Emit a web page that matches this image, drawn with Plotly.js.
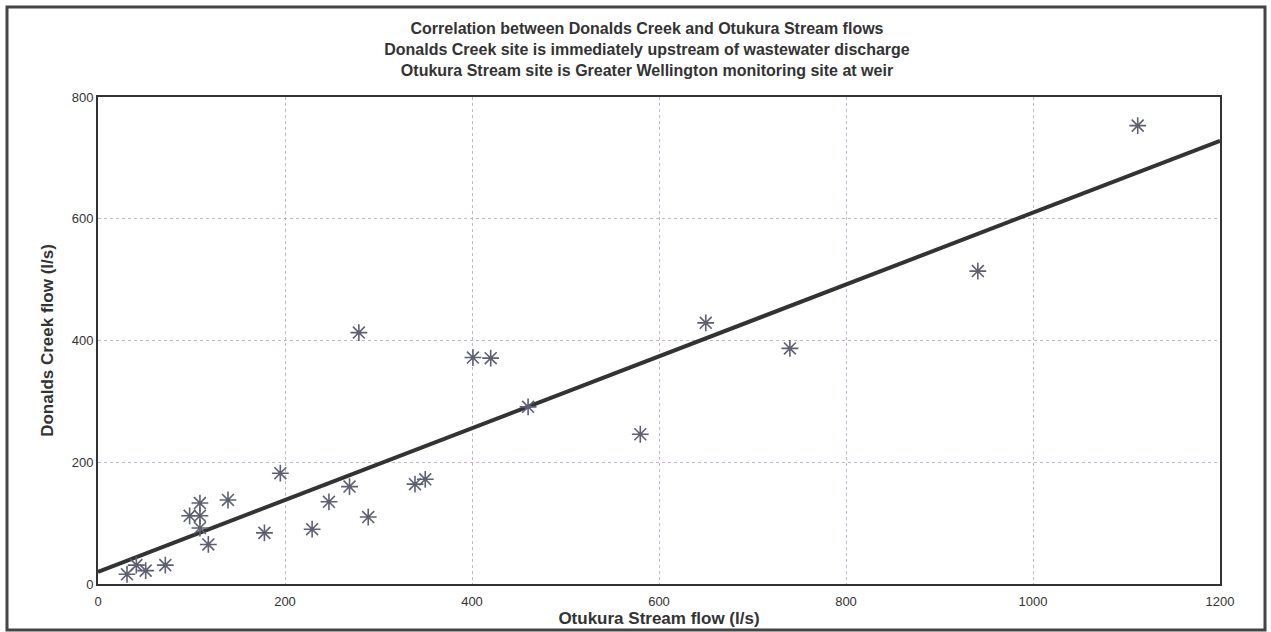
<!DOCTYPE html>
<html>
<head>
<meta charset="utf-8">
<script src="https://cdn.plot.ly/plotly-3.0.1.min.js"></script>
<style>
  html, body { margin: 0; padding: 0; background: #fff; }
  #chart { width: 1271px; height: 632px; }
</style>
</head>
<body>
<div id="chart"></div>
<script>
// Observations: Otukura Stream flow (x) vs Donalds Creek flow (y), l/s
const otukuraFlow = [31, 41, 51, 72, 98, 109, 109, 109, 118, 139, 178, 195, 229, 247, 269, 289, 339, 350, 279, 401, 420, 460, 580, 650, 740, 941, 1112];
const donaldsFlow = [16, 31, 22, 31, 112, 133, 112, 92, 65, 138, 84, 182, 90, 135, 160, 110, 164, 172, 413, 372, 371, 291, 246, 429, 387, 514, 753];

// Fitted trend line end points
const trendX = [0, 1200];
const trendY = [20, 728];

const xTicks = [0, 200, 400, 600, 800, 1000, 1200];
const yTicks = [0, 200, 400, 600, 800];

const titleLines = [
  'Correlation between Donalds Creek and Otukura Stream flows',
  'Donalds Creek site is immediately upstream of wastewater discharge',
  'Otukura Stream site is Greater Wellington monitoring site at weir'
];
const xTitle = 'Otukura Stream flow (l/s)';
const yTitle = 'Donalds Creek flow (l/s)';

const W = 1271, H = 632;
const mar = { l: 98, r: 51, t: 97, b: 48 };
const pw = W - mar.l - mar.r, ph = H - mar.t - mar.b;
const px = v => (v - mar.l) / pw;
const py = v => (H - mar.b - v) / ph;
const FONT = 'Liberation Sans, Arial, sans-serif';

const traces = [
  {
    x: trendX, y: trendY, type: 'scatter', mode: 'lines',
    line: { color: '#333333', width: 4 }, hoverinfo: 'skip', showlegend: false
  },
  {
    x: otukuraFlow, y: donaldsFlow, type: 'scatter', mode: 'markers',
    marker: { symbol: 'asterisk-open', size: 14, color: '#5e6070', line: { color: '#5e6070', width: 1.6 } },
    showlegend: false
  }
];

const axisCommon = {
  showline: true, linecolor: '#333', linewidth: 2, mirror: true,
  showgrid: true, gridcolor: '#c8b4cc', gridwidth: 1, griddash: 'dot',
  zeroline: false, ticks: '',
  tickfont: { family: FONT, size: 13, color: '#333' }
};

const layout = {
  width: W, height: H,
  margin: mar,
  paper_bgcolor: '#fff', plot_bgcolor: '#fff',
  font: { family: FONT, color: '#333' },
  title: {
    text: '<b>' + titleLines.join('<br>') + '</b>',
    xref: 'container', yref: 'container',
    x: 647 / W, xanchor: 'center', y: 1 - 34 / H, yanchor: 'middle',
    font: { size: 16, color: '#333', family: FONT }
  },
  xaxis: Object.assign({}, axisCommon, {
    range: [0, 1200], tickvals: xTicks, ticktext: xTicks.map(String),
    ticklabelstandoff: 4,
    title: { text: '<b>' + xTitle + '</b>', font: { size: 17, color: '#333', family: FONT }, standoff: 4 }
  }),
  yaxis: Object.assign({}, axisCommon, {
    range: [0, 800], tickvals: yTicks, ticktext: yTicks.map(String),
    title: { text: '<b>' + yTitle + '</b>', font: { size: 17, color: '#333', family: FONT }, standoff: 14 }
  }),
  shapes: [{
    type: 'rect', xref: 'paper', yref: 'paper',
    x0: px(7), x1: px(1265), y0: py(630), y1: py(7),
    line: { color: '#444', width: 3 }, fillcolor: 'rgba(0,0,0,0)', layer: 'below'
  }]
};

Plotly.newPlot('chart', traces, layout, { displayModeBar: false, staticPlot: true });
</script>
</body>
</html>
